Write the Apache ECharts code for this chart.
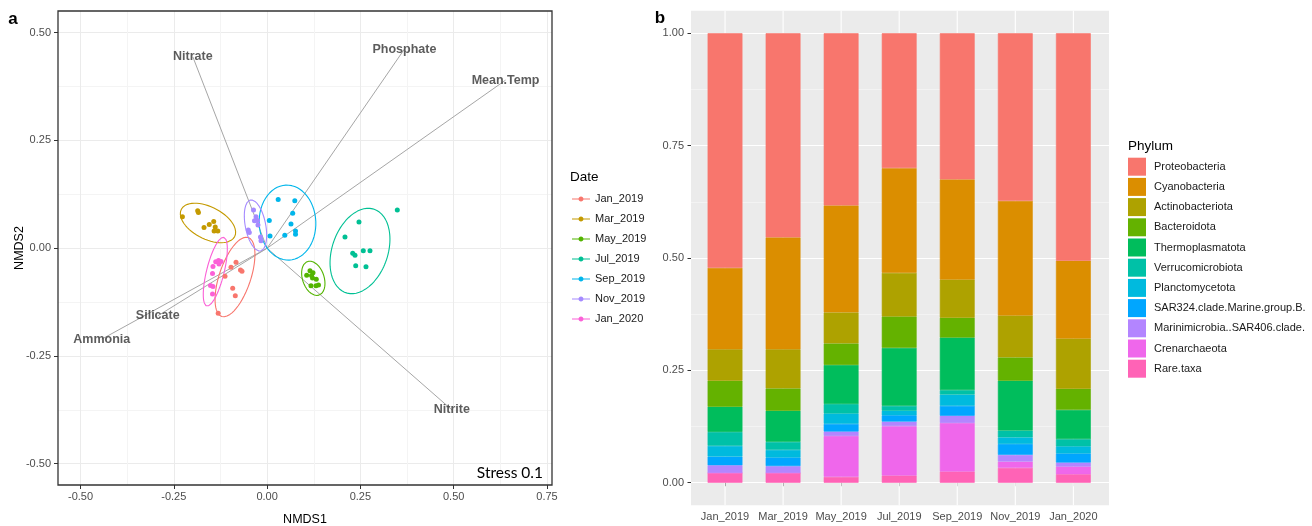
<!DOCTYPE html>
<html><head><meta charset="utf-8">
<script src="https://cdn.jsdelivr.net/npm/echarts@6/dist/echarts.min.js"></script>
<style>html,body{margin:0;padding:0;background:#fff}#c{width:1312px;height:526px}</style>
</head><body><div id="c"></div>
<script>
// ---------- Panel a : NMDS ----------
const dates = ['Jan_2019','Mar_2019','May_2019','Jul_2019','Sep_2019','Nov_2019','Jan_2020'];
const dateColors = ['#F8766D','#C49A00','#53B400','#00C094','#00B6EB','#A58AFF','#FB61D7'];
const ptsJan2019 = [[-0.0967,-0.0443],[-0.0833,-0.0327],[-0.0713,-0.0506],[-0.0673,-0.0536],[-0.1128,-0.0652],[-0.0922,-0.0928],[-0.0852,-0.1102],[-0.1310,-0.1510]];
const ptsMar2019 = [[-0.227,0.073],[-0.186,0.087],[-0.184,0.083],[-0.169,0.048],[-0.155,0.055],[-0.143,0.062],[-0.139,0.049],[-0.142,0.040],[-0.132,0.040]];
const ptsMay2019 = [[0.1149,-0.0524],[0.1230,-0.0568],[0.1061,-0.0626],[0.1190,-0.0633],[0.1217,-0.0691],[0.1318,-0.0719],[0.1176,-0.0872],[0.1310,-0.0872],[0.1377,-0.0854]];
const ptsJul2019 = [[0.3489,0.0886],[0.2462,0.0608],[0.2087,0.0260],[0.2294,-0.0116],[0.2355,-0.0165],[0.2578,-0.0060],[0.2757,-0.0060],[0.2374,-0.0406],[0.2650,-0.0432]];
const ptsSep2019 = [[0.0297,0.1130],[0.0742,0.1102],[0.0686,0.0810],[0.0059,0.0643],[0.0640,0.0561],[0.0761,0.0399],[0.0761,0.0325],[0.0474,0.0302],[0.0078,0.0283]];
const ptsNov2019 = [[-0.0364,0.0886],[-0.0297,0.0731],[-0.0338,0.0638],[-0.0257,0.0643],[-0.0244,0.0538],[-0.0504,0.0422],[-0.0477,0.0364],[-0.0177,0.0260],[-0.0163,0.0174]];
const ptsJan2020 = [[-0.1450,-0.0425],[-0.1377,-0.0313],[-0.1302,-0.0285],[-0.1235,-0.0309],[-0.1289,-0.0367],[-0.1463,-0.0587],[-0.1517,-0.0865],[-0.1450,-0.0889],[-0.1463,-0.1063]];
const datePoints = [ptsJan2019, ptsMar2019, ptsMay2019, ptsJul2019, ptsSep2019, ptsNov2019, ptsJan2020];
// confidence ellipses: centre and two conjugate semi-axis vectors (data units)
const ellipseCenter = [[-0.0860,-0.0668],[-0.1584,0.0585],[0.1238,-0.0698],[0.2489,-0.0065],[0.0547,0.0594],[-0.0311,0.0527],[-0.1388,-0.0545]];
const ellipseU = [[0.0356,0.0916],[0.0715,-0.0316],[0.0153,-0.0390],[0.0380,0.0968],[0.0044,-0.0870],[0.0134,-0.0592],[0.0228,0.0796]];
const ellipseV = [[0.0399,-0.0116],[-0.0196,-0.0332],[0.0273,0.0081],[0.0707,-0.0209],[0.0758,0.0029],[0.0268,0.0045],[0.0228,-0.0049]];
// environmental vectors
const vectorNames = ['Nitrate','Phosphate','Mean.Temp','Nitrite','Silicate','Ammonia'];
const vectorX = [-0.199, 0.368, 0.639, 0.495, -0.293, -0.443];
const vectorY = [0.444, 0.462, 0.390, -0.375, -0.157, -0.211];
const stressText = 'Stress 0.1';

// ---------- Panel b : stacked relative abundance ----------
const samples = ['Jan_2019','Mar_2019','May_2019','Jul_2019','Sep_2019','Nov_2019','Jan_2020'];
const phyla = ['Proteobacteria','Cyanobacteria','Actinobacteriota','Bacteroidota','Thermoplasmatota','Verrucomicrobiota','Planctomycetota','SAR324.clade.Marine.group.B.','Marinimicrobia..SAR406.clade.','Crenarchaeota','Rare.taxa'];
const phylumColors = ['#F8766D','#DB8E00','#AEA200','#64B200','#00BD5C','#00C1A7','#00BADE','#00A6FF','#B385FF','#EF67EB','#FF63B6'];
const proteobacteria    = [0.522,0.454,0.383,0.300,0.325,0.373,0.506];
const cyanobacteria     = [0.181,0.249,0.238,0.233,0.223,0.255,0.173];
const actinobacteriota  = [0.070,0.087,0.069,0.097,0.085,0.093,0.112];
const bacteroidota      = [0.058,0.050,0.048,0.070,0.044,0.052,0.047];
const thermoplasmatota  = [0.056,0.069,0.087,0.129,0.117,0.111,0.065];
const verrucomicrobiota = [0.031,0.018,0.021,0.011,0.010,0.015,0.016];
const planctomycetota   = [0.024,0.017,0.023,0.010,0.025,0.015,0.016];
const sar324            = [0.019,0.019,0.017,0.014,0.022,0.024,0.020];
const marinimicrobia    = [0.017,0.015,0.010,0.010,0.016,0.015,0.009];
const crenarchaeota     = [0.000,0.000,0.091,0.110,0.108,0.014,0.017];
const rareTaxa          = [0.022,0.022,0.013,0.016,0.025,0.033,0.019];
const phylumValues = [proteobacteria,cyanobacteria,actinobacteriota,bacteroidota,thermoplasmatota,verrucomicrobiota,planctomycetota,sar324,marinimicrobia,crenarchaeota,rareTaxa];
const yTicksB = [0, 0.25, 0.5, 0.75, 1];

const FONT = '"Liberation Sans", Arial, sans-serif';
const tickLabel = {color:'#4D4D4D', fontSize:11, fontFamily:FONT};

function ellipsePath(c,u,v){
  const out=[];
  for(let k=0;k<=120;k++){
    const t=2*Math.PI*k/120;
    out.push([c[0]+u[0]*Math.cos(t)+v[0]*Math.sin(t), c[1]+u[1]*Math.cos(t)+v[1]*Math.sin(t)]);
  }
  return out;
}

const hid = (gi, extra) => Object.assign({gridIndex:gi, type:'value', show:false}, extra||{});

const series = [];
// vectors (under points)
vectorNames.forEach((n,i)=>{
  series.push({type:'line', xAxisIndex:3, yAxisIndex:3, data:[[0,0],[vectorX[i],vectorY[i]]],
    symbol:'none', silent:true, clip:false, z:2,
    lineStyle:{color:'#A6A6A6', width:1}});
});
// ellipses
dates.forEach((d,i)=>{
  series.push({type:'line', xAxisIndex:3, yAxisIndex:3, data:ellipsePath(ellipseCenter[i],ellipseU[i],ellipseV[i]),
    symbol:'none', silent:true, clip:false, z:3, smooth:false,
    lineStyle:{color:dateColors[i], width:1.1}});
});
// points
dates.forEach((d,i)=>{
  series.push({type:'scatter', name:d, xAxisIndex:3, yAxisIndex:3, data:datePoints[i],
    symbolSize:5, z:4, itemStyle:{color:dateColors[i], opacity:1}});
});
// vector labels
series.push({type:'scatter', xAxisIndex:3, yAxisIndex:3, z:6, symbolSize:1, silent:true, clip:false,
  itemStyle:{color:'rgba(0,0,0,0)'},
  data: vectorNames.map((n,i)=>({name:n, value:[vectorX[i],vectorY[i]]})),
  label:{show:true, position:'inside', formatter:p=>p.name, color:'#333333', fontWeight:'bold', fontSize:12.5, fontFamily:FONT}});

// panel b vertical grid lines
series.push({type:'custom', xAxisIndex:6, yAxisIndex:6, z:1, silent:true,
  data: samples.map((s,i)=>[i,0]),
  renderItem:(params,api)=>{
    const x = api.coord([api.value(0),0])[0];
    const cs = params.coordSys;
    return {type:'line', shape:{x1:x,y1:cs.y,x2:x,y2:cs.y+cs.height}, style:{stroke:'#FFFFFF', lineWidth:1.1}};
  }});
// bars: bottom (Rare.taxa) to top (Proteobacteria)
for(let i=phyla.length-1;i>=0;i--){
  series.push({type:'bar', name:phyla[i], xAxisIndex:6, yAxisIndex:6, stack:'phy', barWidth:'60%',
    data:phylumValues[i], itemStyle:{color:phylumColors[i], borderColor:phylumColors[i], borderWidth:0.6, borderRadius:0}, z:3});
}

const linePath = 'path://M0,2.5L18,2.5L18,3.5L0,3.5Z M6.5,3C6.5,1.62 7.62,0.5 9,0.5C10.38,0.5 11.5,1.62 11.5,3C11.5,4.38 10.38,5.5 9,5.5C7.62,5.5 6.5,4.38 6.5,3Z';

const option = {
  animation:false,
  backgroundColor:'#FFFFFF',
  textStyle:{fontFamily:FONT},
  grid:[
    {left:58, top:11, width:494, height:474, show:true, borderColor:'#333333', borderWidth:1.3, backgroundColor:'transparent', containLabel:false, z:5},
    {left:80.5, top:11, width:466.5, height:474, containLabel:false},
    {left:58, top:32.7, width:494, height:431, containLabel:false},
    {left:80.5, top:32.7, width:466.5, height:431, containLabel:false},
    {left:691, top:10.8, width:418, height:494.4, show:true, backgroundColor:'#EBEBEB', borderWidth:0, containLabel:false},
    {left:691, top:33.3, width:418, height:449.4, containLabel:false},
    {left:696, top:10.8, width:406.4, height:494.4, containLabel:false}
  ],
  xAxis:[
    hid(0,{min:0,max:1}),
    {gridIndex:1, type:'value', min:-0.5, max:0.75, interval:0.25, position:'bottom',
      axisLine:{show:false}, axisTick:{show:true, length:4, lineStyle:{color:'#333333', width:1}},
      axisLabel:Object.assign({margin:6, formatter:v=>v.toFixed(2)}, tickLabel),
      splitLine:{show:true, lineStyle:{color:'#EBEBEB', width:1}},
      minorTick:{show:false, splitNumber:2}, minorSplitLine:{show:true, lineStyle:{color:'#F4F4F4', width:1}}},
    hid(2,{min:0,max:1}),
    hid(3,{min:-0.5,max:0.75}),
    hid(4,{min:0,max:1}),
    hid(5,{min:0,max:1}),
    {gridIndex:6, type:'category', data:samples, boundaryGap:true,
      axisLine:{show:false}, axisTick:{show:true, alignWithLabel:true, length:3.5, lineStyle:{color:'#333333'}},
      axisLabel:Object.assign({margin:6, interval:0}, tickLabel), splitLine:{show:false}}
  ],
  yAxis:[
    hid(0,{min:0,max:1}),
    hid(1,{min:0,max:1}),
    {gridIndex:2, type:'value', min:-0.5, max:0.5, interval:0.25,
      axisLine:{show:false}, axisTick:{show:true, length:4, lineStyle:{color:'#333333', width:1}},
      axisLabel:Object.assign({margin:7, formatter:v=>v.toFixed(2)}, tickLabel),
      splitLine:{show:true, lineStyle:{color:'#EBEBEB', width:1}},
      minorTick:{show:false, splitNumber:2}, minorSplitLine:{show:true, lineStyle:{color:'#F4F4F4', width:1}}},
    hid(3,{min:-0.5,max:0.5}),
    hid(4,{min:0,max:1}),
    {gridIndex:5, type:'value', min:yTicksB[0], max:yTicksB[yTicksB.length-1], interval:0.25,
      axisLine:{show:false}, axisTick:{show:true, length:3.5, lineStyle:{color:'#333333'}},
      axisLabel:Object.assign({margin:7, formatter:v=>v.toFixed(2)}, tickLabel),
      splitLine:{show:true, lineStyle:{color:'#FFFFFF', width:1.1}},
      minorTick:{show:false, splitNumber:2}, minorSplitLine:{show:true, lineStyle:{color:'#F8F8F8', width:0.6}}},
    hid(6,{min:-0.05,max:1.05})
  ],
  legend:[
    {data:dates, orient:'vertical', left:567, top:187, icon:linePath, itemWidth:18, itemHeight:5, itemGap:6,
      selectedMode:false, textStyle:{fontSize:11, color:'#1A1A1A', fontFamily:FONT, lineHeight:14}},
    {data:phyla, orient:'vertical', left:1123, top:152.7, icon:'rect', itemWidth:18, itemHeight:18, itemGap:2.2,
      selectedMode:false, itemStyle:{borderWidth:0}, textStyle:{fontSize:11, color:'#1A1A1A', fontFamily:FONT, padding:[0,0,0,3]}}
  ],
  graphic:[
    {type:'text', x:13, y:19, style:{text:'a', font:'bold 17px '+FONT, fill:'#000', textAlign:'center', textVerticalAlign:'middle'}},
    {type:'text', x:660, y:18, style:{text:'b', font:'bold 17px '+FONT, fill:'#000', textAlign:'center', textVerticalAlign:'middle'}},
    {type:'text', x:305, y:520, style:{text:'NMDS1', font:'12.5px '+FONT, fill:'#000', textAlign:'center', textVerticalAlign:'middle'}},
    {type:'text', x:20, y:248, rotation:Math.PI/2, style:{text:'NMDS2', font:'12.5px '+FONT, fill:'#000', textAlign:'center', textVerticalAlign:'middle'}},
    {type:'text', x:543, y:473, z:10, style:{text:stressText, font:'15.5px Lato, "Open Sans", sans-serif', fill:'#000', textAlign:'right', textVerticalAlign:'middle'}},
    {type:'text', x:570, y:177, style:{text:'Date', font:'13.5px '+FONT, fill:'#000', textAlign:'left', textVerticalAlign:'middle'}},
    {type:'text', x:1128, y:146, style:{text:'Phylum', font:'13.5px '+FONT, fill:'#000', textAlign:'left', textVerticalAlign:'middle'}}
  ],
  series: series
};

const chart = echarts.init(document.getElementById('c'), null, {renderer:'canvas', width:1312, height:526});
chart.setOption(option);
</script>
</body></html>
